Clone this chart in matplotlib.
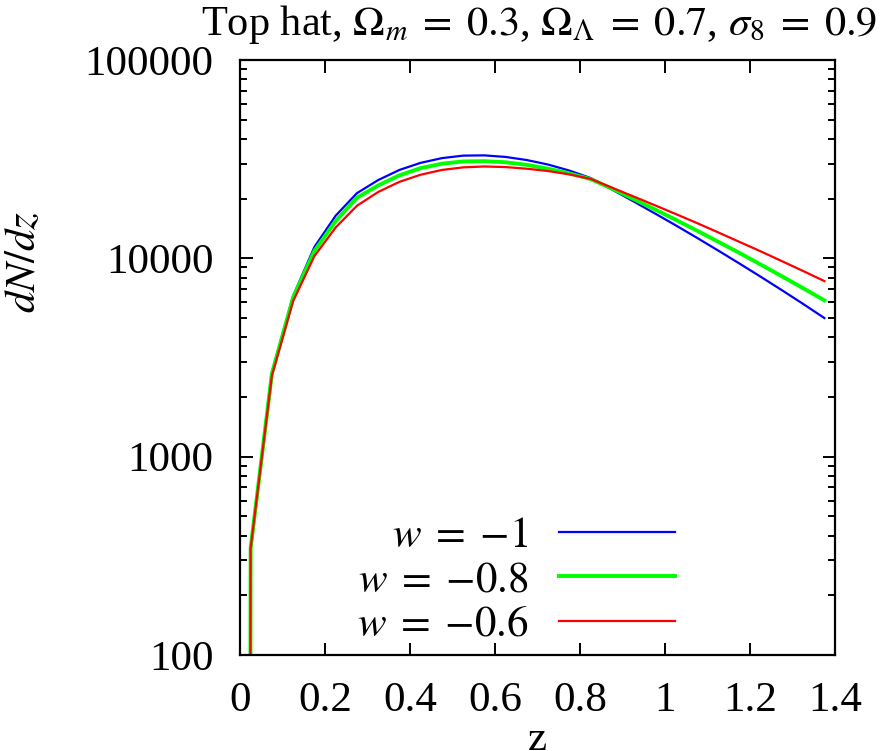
import matplotlib
matplotlib.use("Agg")
import matplotlib.pyplot as plt
from matplotlib.ticker import FixedLocator, LogLocator, NullFormatter, FuncFormatter

# redshift grid (first point is the near-zero start that drops off the plot)
z = [0.0, 0.025, 0.075, 0.125, 0.175, 0.225, 0.275, 0.325, 0.375, 0.425,
     0.475, 0.525, 0.575, 0.625, 0.675, 0.725, 0.775, 0.825, 0.875,
     0.925, 0.975, 1.025, 1.075, 1.125, 1.175, 1.225, 1.275, 1.325, 1.375]

# dN/dz
dndz_w1 = [1e-30, 345, 2650, 6460, 11400, 16400, 21300, 24800, 27900, 30300,
           32000, 32950, 33050, 32450, 31300, 29700, 27700, 25400, 22250,
           19420, 16900, 14680, 12700, 10950, 9420, 8080, 6910, 5890, 5000]
dndz_w08 = [1e-30, 345, 2620, 6350, 10900, 15400, 20200, 23300, 26200, 28500,
            30000, 30800, 30900, 30500, 29600, 28300, 26800, 25100, 22490,
            19950, 17700, 15660, 13800, 12130, 10650, 9310, 8120, 7070, 6140]
dndz_w06 = [1e-30, 345, 2560, 6080, 10260, 14300, 18400, 21600, 24300, 26400,
            27900, 28750, 29050, 28850, 28300, 27550, 26500, 25150, 22720,
            20550, 18560, 16740, 15070, 13520, 12110, 10850, 9680, 8630, 7680]

labels = [r'$w\;=\;{-1}$', r'$w\;=\;{-0.8}$', r'$w\;=\;{-0.6}$']
colors = ['#0000ff', '#00ff00', '#ff0000']
widths = [1.6, 2.8, 1.6]

plt.rcParams['font.family'] = ['Liberation Serif', 'DejaVu Serif']
plt.rcParams['mathtext.fontset'] = 'stix'
plt.rcParams['font.size'] = 31

fig = plt.figure(figsize=(8.81, 7.51), dpi=100)
ax = fig.add_axes([240 / 881, 96 / 751, 595 / 881, 595 / 751])

for ys, lab, c, lw in zip([dndz_w1, dndz_w08, dndz_w06], labels, colors, widths):
    ax.plot(z, ys, color=c, lw=lw, label=lab)

ax.set_yscale('log')
ax.set_xlim(0, 1.4)
ax.set_ylim(100, 100000)

ax.xaxis.set_major_locator(FixedLocator([0, 0.2, 0.4, 0.6, 0.8, 1.0, 1.2, 1.4]))
ax.xaxis.set_major_formatter(FuncFormatter(lambda v, pos: '%g' % v))
ax.yaxis.set_major_locator(FixedLocator([100, 1000, 10000, 100000]))
ax.yaxis.set_major_formatter(FuncFormatter(lambda v, pos: '%d' % round(v)))
ax.yaxis.set_minor_locator(LogLocator(base=10, subs=range(2, 10)))
ax.yaxis.set_minor_formatter(NullFormatter())

ax.tick_params(which='both', direction='in', top=True, right=True, width=1.4)
ax.tick_params(which='major', length=9)
ax.tick_params(which='minor', length=5)
ax.tick_params(axis='x', pad=19)
ax.tick_params(axis='y', pad=19)
for s in ax.spines.values():
    s.set_linewidth(1.6)

ax.set_title(r'Top hat, $\Omega_m\;=\;0.3$, $\Omega_\Lambda\;=\;0.7$, $\sigma_8\;=\;0.9$',
             fontsize=30.5, pad=18, x=0.503)
ax.set_ylabel(r'$dN/dz$')
ax.yaxis.set_label_coords(-0.33, 0.66)
ax.set_xlabel('z')
ax.xaxis.set_label_coords(0.50, -0.11)

ax.legend(loc='upper right', bbox_to_anchor=(0.731, 0.232), frameon=False,
          markerfirst=False, handlelength=2.7, handletextpad=0.7,
          labelspacing=0.12, borderpad=0, borderaxespad=0)

fig.savefig('out.png', dpi=100)
